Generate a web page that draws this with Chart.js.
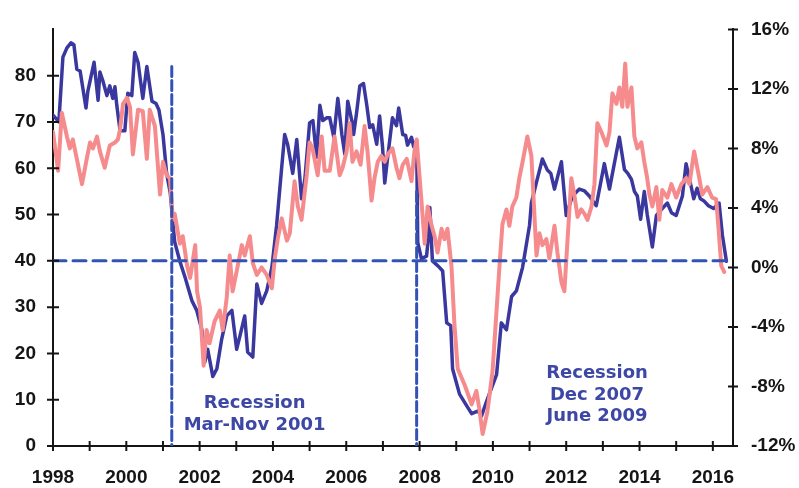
<!DOCTYPE html>
<html>
<head>
<meta charset="utf-8">
<script src="https://cdn.jsdelivr.net/npm/chart.js@4/dist/chart.umd.min.js"></script>
<style>
  html, body { margin: 0; padding: 0; background: #fff; }
  #wrap { width: 799px; height: 488px; }
</style>
</head>
<body>
<div id="wrap"><canvas id="chart" width="799" height="488"></canvas></div>
<script>
// blue line, left axis (index level)
const blueYears = [1998.00,1998.16,1998.27,1998.38,1998.49,1998.57,1998.65,1998.74,1998.90,1998.95,
  1999.12,1999.23,1999.28,1999.36,1999.47,1999.55,1999.63,1999.69,1999.74,1999.83,1999.96,
  2000.04,2000.15,2000.23,2000.32,2000.45,2000.56,2000.70,2000.81,2000.89,
  2001.00,2001.10,2001.20,2001.27,2001.32,2001.46,2001.60,2001.79,2001.92,
  2002.06,2002.14,2002.22,2002.36,2002.47,2002.60,2002.74,2002.88,
  2003.01,2003.10,2003.23,2003.31,2003.45,2003.56,2003.69,2003.83,2003.97,
  2004.10,2004.24,2004.32,2004.40,2004.54,2004.65,2004.78,2004.87,
  2005.00,2005.09,2005.19,2005.28,2005.36,2005.47,2005.55,2005.66,2005.77,2005.88,2005.96,
  2006.04,2006.15,2006.20,2006.28,2006.37,2006.47,2006.56,2006.64,2006.72,2006.83,2006.91,2006.99,
  2007.05,2007.13,2007.26,2007.37,2007.43,2007.54,2007.62,2007.67,2007.78,2007.84,2007.92,2007.95,
  2008.05,2008.19,2008.24,2008.28,2008.35,2008.54,2008.63,2008.74,2008.85,2008.90,
  2009.09,2009.30,2009.42,2009.60,2009.69,2009.83,
  2010.10,2010.23,2010.37,2010.51,2010.64,2010.81,
  2011.00,2011.05,2011.19,2011.35,2011.48,2011.58,2011.68,2011.87,
  2012.00,2012.17,2012.36,2012.50,2012.63,2012.82,
  2013.04,2013.18,2013.45,2013.59,2013.68,2013.78,2013.86,2013.94,
  2014.03,2014.13,2014.21,2014.35,2014.46,2014.62,2014.76,2014.87,
  2015.00,2015.17,2015.27,2015.35,2015.48,2015.57,2015.66,2015.75,2015.88,
  2016.02,2016.17,2016.26,2016.37];
const blueValues = [71.5,70,84,86,87.1,86.7,81.4,81,73,76.6,
  82.9,74.7,80.8,78.9,75.7,77.8,75.1,77.6,73.6,68.1,68.1,
  76.2,75.7,85,82.9,75.1,82,74.5,74,72.6,
  67.3,58.9,54.6,48.3,44.1,39.9,36.5,31.4,29.3,
  25.1,18.1,20.9,15,16.7,23,28.1,29.3,
  20.9,23.8,28.1,20.3,19.2,35,30.8,33.5,38.6,
  47.7,60.3,67.3,65.2,58.9,66.2,53.4,57.6,
  69.8,70.3,62.4,73.6,70.3,70.9,70.9,66.7,75.1,67.3,63.1,
  74.5,70.3,67.3,71.9,77.8,78.3,73.6,68.8,69.4,65.2,71.3,64.6,
  56.8,62.4,70.9,69.2,73,67.3,67.1,65,66.7,64.6,66,44,
  40.5,41,45,51.5,40,38.6,37.8,26.6,26,16.7,
  11.2,8.5,7,7.6,6.5,9.7,
  15.4,26.6,25.1,32.3,33.5,38.6,
  47.7,52.5,57,62,59.7,58.9,55.5,61.4,
  49.8,54,55.5,55.1,54,51.9,
  61,55.5,66.7,59.7,58.9,57.6,55,54,
  49,55,50,43,49.8,51.3,52.5,50.4,
  49.8,54,61,58.2,53.4,55.7,53.4,53,51.9,
  51.3,52.5,45.6,39.9];

// pink line, right axis (% change)
const pinkYears = [1998.00,1998.14,1998.24,1998.38,1998.46,1998.54,1998.65,1998.79,1998.92,
  1999.01,1999.09,1999.20,1999.28,1999.41,1999.55,1999.69,1999.77,1999.83,1999.91,
  2000.02,2000.10,2000.18,2000.32,2000.45,2000.56,2000.64,2000.78,2000.92,
  2001.00,2001.10,2001.19,2001.27,2001.32,2001.46,2001.54,2001.66,2001.74,2001.88,2001.93,
  2002.01,2002.11,2002.19,2002.27,2002.41,2002.55,2002.63,2002.74,2002.82,2002.90,
  2003.04,2003.15,2003.23,2003.37,2003.45,2003.56,2003.69,2003.83,2003.97,
  2004.05,2004.13,2004.24,2004.38,2004.46,2004.59,2004.68,2004.78,2004.92,
  2005.00,2005.08,2005.22,2005.33,2005.41,2005.55,2005.68,2005.82,2005.90,
  2006.01,2006.09,2006.17,2006.28,2006.39,2006.50,2006.58,2006.69,2006.77,2006.86,2006.96,
  2007.05,2007.13,2007.26,2007.37,2007.45,2007.54,2007.65,2007.78,2007.86,2007.92,
  2008.05,2008.14,2008.22,2008.33,2008.41,2008.49,2008.60,2008.68,2008.76,2008.87,2008.95,
  2009.04,2009.23,2009.42,2009.55,2009.63,2009.72,2009.85,2009.99,
  2010.18,2010.26,2010.37,2010.45,2010.53,2010.64,2010.72,2010.81,2010.94,
  2011.05,2011.19,2011.27,2011.35,2011.46,2011.54,2011.68,2011.76,2011.87,2011.95,
  2012.03,2012.14,2012.22,2012.31,2012.41,2012.50,2012.58,2012.69,2012.77,2012.85,2012.96,
  2013.10,2013.18,2013.26,2013.37,2013.45,2013.53,2013.61,2013.67,2013.78,2013.86,2013.94,
  2014.05,2014.13,2014.21,2014.27,2014.35,2014.46,2014.54,2014.62,2014.76,2014.87,
  2015.00,2015.14,2015.27,2015.36,2015.49,2015.63,2015.71,2015.85,2015.98,
  2016.09,2016.15,2016.23,2016.31];
const pinkValues = [9.1,6.5,10.4,8.8,8.0,8.6,7.3,5.6,7.3,
  8.4,8.0,8.8,7.8,6.7,8.2,8.4,8.6,9.3,11.0,
  11.4,10.8,7.6,10.6,10.5,7.3,10.6,9.5,4.9,
  7.1,6.2,6.0,3.2,3.6,1.6,2.1,0.1,-0.7,1.5,-1.6,
  -2.7,-6.6,-4.2,-5.1,-3.6,-2.9,-4.2,-2.0,0.8,-1.6,
  0.1,1.5,0.8,2.1,0.3,-0.5,0.0,-0.5,-1.4,
  0.6,1.9,3.3,1.8,2.3,5.8,4.1,3.2,6.2,
  8.4,8.0,6.2,8.8,6.5,6.5,8.8,6.2,6.7,
  7.8,9.7,7.1,7.8,6.9,9.5,7.8,4.5,6.0,7.1,7.5,
  7.1,7.6,8.0,6.7,6.0,6.9,7.3,5.8,7.8,8.6,
  4.5,1.6,4.1,2.8,2.1,1.0,2.6,1.9,2.6,0.1,-3.8,
  -6.8,-7.9,-9.2,-8.3,-9.5,-11.2,-9.7,-7.0,
  0.1,2.9,3.9,2.8,4.1,4.7,6.0,7.1,8.8,
  7.5,0.8,2.3,1.5,1.9,0.6,2.8,1.0,-1.0,-1.6,
  1.6,6.0,4.9,3.4,3.9,3.6,3.2,4.1,5.6,9.7,9.1,
  8.2,9.1,11.7,11.0,12.1,10.8,13.7,10.8,12.1,8.8,8.0,
  8.4,7.1,6.0,4.9,4.1,5.4,3.2,5.2,4.7,5.6,
  4.7,5.6,6.0,5.6,7.8,6.0,4.9,5.4,4.7,
  4.6,2.8,0.1,-0.3];

const yearTicks = [1998,1999,2000,2001,2002,2003,2004,2005,2006,2007,2008,2009,2010,2011,2012,2013,2014,2015,2016];
const leftTicks = [0,10,20,30,40,50,60,70,80];
const rightTicks = [-12,-8,-4,0,4,8,12,16];

// reference lines and notes (first line of each note sits at x/y)
const baselineLevel = 40;
const baselineEnd = 2016.37;
const recessionStart = [2001.24, 2007.92];
const recessionTop = [82, 55];
const notes = [
  { x: 2003.5, y: 9.2, lines: ['Recession', 'Mar-Nov 2001'] },
  { x: 2012.84, y: 15.6, lines: ['Recession', 'Dec 2007', 'June 2009'] }
];

const dashBlue = '#3352b5';
const axisColor = '#151515';
const tickFont = { family: 'Arial, "Liberation Sans", sans-serif', size: 19, weight: 'bold' };

const toPoints = (xs, ys) => xs.map((x, i) => ({ x: x, y: ys[i] }));

const crossTicks = {
  id: 'crossTicks',
  afterDraw(chart) {
    const c = chart.ctx, a = chart.chartArea;
    const sx = chart.scales.x, sl = chart.scales.yL, sr = chart.scales.yR;
    c.save();
    c.strokeStyle = axisColor;
    c.lineWidth = 2;
    c.beginPath();
    yearTicks.forEach(v => { const p = sx.getPixelForValue(v); c.moveTo(p, a.bottom - 5); c.lineTo(p, a.bottom + 5); });
    leftTicks.forEach(v => { const p = sl.getPixelForValue(v); c.moveTo(a.left - 6, p); c.lineTo(a.left + 6, p); });
    rightTicks.forEach(v => { const p = sr.getPixelForValue(v); c.moveTo(a.right - 5, p); c.lineTo(a.right + 5, p); });
    c.stroke();
    c.restore();
  }
};

const noteText = {
  id: 'noteText',
  afterDraw(chart) {
    const c = chart.ctx;
    c.save();
    c.fillStyle = '#3d47a5';
    c.font = 'bold 18px "DejaVu Sans", Verdana, sans-serif';
    c.textAlign = 'center';
    c.textBaseline = 'middle';
    notes.forEach(n => {
      const px = chart.scales.x.getPixelForValue(n.x);
      const py = chart.scales.yL.getPixelForValue(n.y);
      n.lines.forEach((t, i) => c.fillText(t, px, py + i * 21.5));
    });
    c.restore();
  }
};

const refSets = [
  { data: [{ x: 1998, y: baselineLevel }, { x: baselineEnd, y: baselineLevel }], borderDash: [13, 7] }
].concat(recessionStart.map((x, i) => ({ data: [{ x: x, y: recessionTop[i] }, { x: x, y: 0 }], borderDash: [10, 4] })))
 .map(d => Object.assign(d, { yAxisID: 'yL', borderColor: dashBlue, borderWidth: 3, order: -1 }));

new Chart(document.getElementById('chart'), {
  type: 'line',
  data: {
    datasets: refSets.concat([
      { data: toPoints(pinkYears, pinkValues), yAxisID: 'yR', borderColor: '#f68b8d', borderWidth: 4, order: 0 },
      { data: toPoints(blueYears, blueValues), yAxisID: 'yL', borderColor: '#3a389e', borderWidth: 3.5, order: 1 }
    ])
  },
  options: {
    responsive: false,
    animation: false,
    devicePixelRatio: 1,
    layout: { padding: { top: 17, left: 0, right: 0, bottom: 0 } },
    plugins: { legend: { display: false }, tooltip: { enabled: false } },
    elements: { point: { radius: 0 }, line: { tension: 0, borderJoinStyle: 'round', borderCapStyle: 'round' } },
    scales: {
      x: {
        type: 'linear', min: 1998, max: 2016.55,
        afterBuildTicks: s => { s.ticks = yearTicks.map(v => ({ value: v })); },
        afterFit: s => { s.height = 42; },
        ticks: { callback: v => (v % 2 === 0 ? String(v) : ''), font: tickFont, color: axisColor, padding: 20, maxRotation: 0, autoSkip: false },
        grid: { drawOnChartArea: false, drawTicks: false },
        border: { display: true, color: axisColor, width: 2 }
      },
      yL: {
        position: 'left', min: 0, max: 90,
        afterBuildTicks: s => { s.ticks = leftTicks.map(v => ({ value: v })); },
        afterFit: s => { s.width = 53; },
        ticks: { font: tickFont, color: axisColor, padding: 17 },
        grid: { drawOnChartArea: false, drawTicks: false },
        border: { display: true, color: axisColor, width: 2 }
      },
      yR: {
        position: 'right', min: -12, max: 16,
        afterBuildTicks: s => { s.ticks = rightTicks.map(v => ({ value: v })); },
        afterFit: s => { s.width = 66; },
        ticks: { callback: v => v + '%', font: tickFont, color: axisColor, padding: 18 },
        grid: { drawOnChartArea: false, drawTicks: false },
        border: { display: true, color: axisColor, width: 2 }
      }
    }
  },
  plugins: [crossTicks, noteText]
});
</script>
</body>
</html>
